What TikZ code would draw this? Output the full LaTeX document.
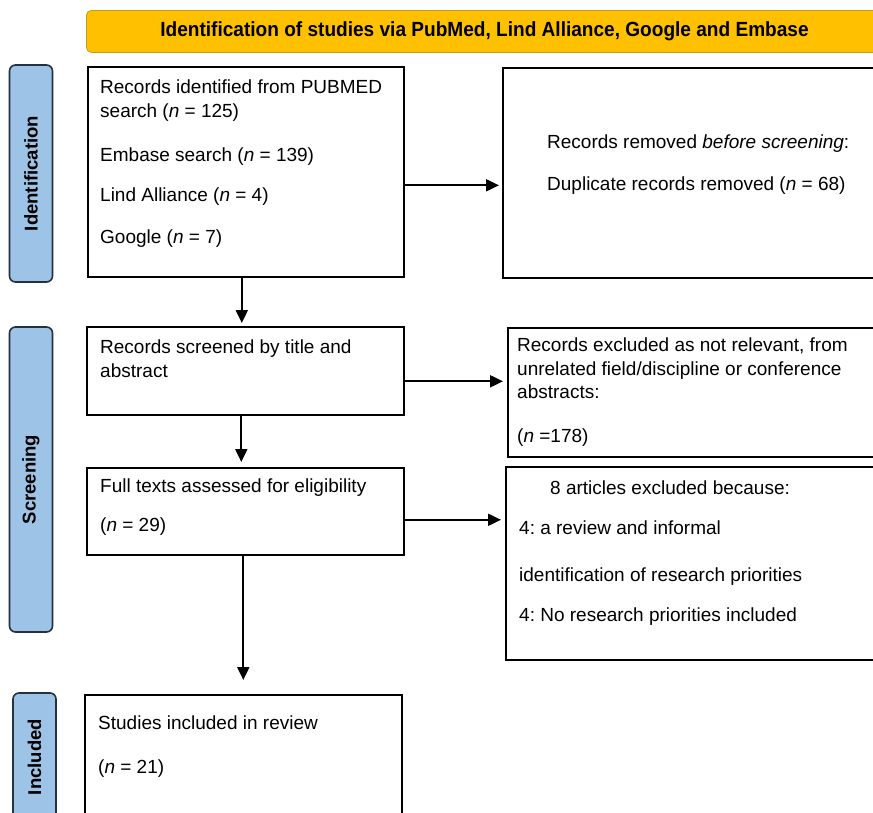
\documentclass[tikz,border=0pt]{standalone}
\usepackage{fontspec}
\setmainfont{Liberation Sans}
\usetikzlibrary{arrows.meta}
\definecolor{bangold}{HTML}{FFC000}
\definecolor{banedge}{HTML}{C99A16}
\definecolor{sideblue}{HTML}{9DC3E6}
\definecolor{sideedge}{HTML}{25313F}
\frenchspacing

\begin{document}
\begin{tikzpicture}[x=1pt,y=-1pt,
    box/.style={draw=black, line width=1.6pt, fill=white, anchor=north west, inner sep=0pt},
    side/.style={draw=sideedge, fill=sideblue, line width=1.6pt, rounded corners=6pt, rotate=90,
      inner sep=0pt, font=\fontsize{18.5}{20}\selectfont\bfseries},
    txt/.style={anchor=north west, inner sep=0pt, align=left, font=\fontsize{19}{23.5}\selectfont},
    arr/.style={line width=2pt, -{Triangle[length=13pt,width=12pt]}}]
    \useasboundingbox (0,0) rectangle (873,812);
    \clip (0,0) rectangle (873,812);

    % 顶部标题
    \node[anchor=north west, draw=banedge, fill=bangold, line width=0.8pt, rounded corners=5pt,
      minimum width=814, minimum height=42] (banbox) at (86,10) {};
    \node[xscale=0.93, font=\fontsize{20.5}{22}\selectfont\bfseries] (bantxt) at (484.5,31)
      {Identification of studies via PubMed, Lind Alliance, Google and Embase};

    % 左侧阶段
    \node[side, minimum width=217, minimum height=43] (idside) at (31,173.5) {Identification};
    \node[side, minimum width=305, minimum height=43] (scside) at (31,479.5) {Screening};
    \node[side, minimum width=128, minimum height=43] (inside) at (34.5,757) {Included};

    % 方框
    \node[box, minimum width=316, minimum height=210] (rec) at (87,66) {};
    \node[box, minimum width=398, minimum height=210] (rem) at (502,67) {};
    \node[box, minimum width=317, minimum height=88] (scr) at (86,326) {};
    \node[box, minimum width=393, minimum height=129] (exc) at (507,327) {};
    \node[box, minimum width=317, minimum height=87] (full) at (86,467) {};
    \node[box, minimum width=395, minimum height=193] (art) at (505,466) {};
    \node[box, minimum width=317, minimum height=206] (inc) at (84,694) {};

    % 方框里的文字
    \node[txt] (rectxt) at (100,79.6) {Records identified from PUBMED\\search (\textit{n} = 125)\\[20.5pt]
      Embase search (\textit{n} = 139)\\[16.5pt]Lind Alliance (\textit{n} = 4)\\[18.5pt]Google (\textit{n} = 7)};
    \node[txt] (remtxt) at (547,134.6) {Records removed \textit{before screening}:\\[18.5pt]
      Duplicate records removed (\textit{n} = 68)};
    \node[txt] (scrtxt) at (100,340) {Records screened by title and\\abstract};
    \node[txt] (exctxt) at (517,337.6) {Records excluded as not relevant, from\\unrelated field/discipline or conference\\
      abstracts:\\[20pt](\textit{n} =178)};
    \node[txt] (fulltxt) at (100,478.6) {Full texts assessed for eligibility\\[15.5pt](\textit{n} = 29)};
    \node[txt] (arttxt) at (519,480.6) {\hspace*{31pt}8 articles excluded because:\\[16.5pt]
      4: a review and informal\\[23.5pt]identification of research priorities\\[16.5pt]
      4: No research priorities included};
    \node[txt] (inctxt) at (98,715.6) {Studies included in review\\[20.5pt](\textit{n} = 21)};

    % 箭头
    \draw[arr, shorten >=3pt] ([yshift=-13.5pt]rec.east) -- ([yshift=-13.5pt]rec.east -| rem.west);
    \draw[arr, shorten >=3pt] ([xshift=-4pt]rec.south) -- ([xshift=-4pt]rec.south |- scr.north);
    \draw[arr, shorten >=4pt] ([yshift=-10.5pt]scr.east) -- ([yshift=-10.5pt]scr.east -| exc.west);
    \draw[arr, shorten >=5pt] ([xshift=-4pt]scr.south) -- ([xshift=-4pt]scr.south |- full.north);
    \draw[arr, shorten >=4pt] ([yshift=-8.5pt]full.east) -- ([yshift=-8.5pt]full.east -| art.west);
    \draw[arr, shorten >=14pt] ([xshift=-2pt]full.south) -- ([xshift=-2pt]full.south |- inc.north);
\end{tikzpicture}
\end{document}
